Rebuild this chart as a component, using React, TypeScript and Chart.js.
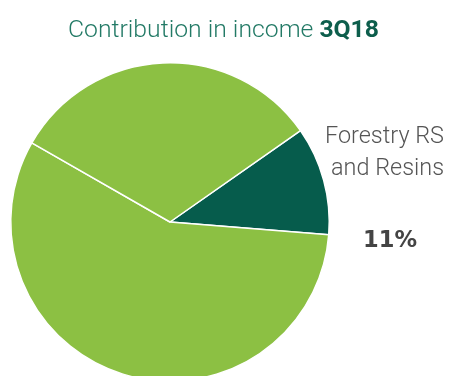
import React, { useEffect, useRef } from "react";
import { Chart, registerables } from "chart.js";

Chart.register(...registerables);

const segments = ["Forestry RS and Resins", "Other 1", "Other 2"];
const shares = [11, 57, 32];
const sliceColors = ["#065c4c", "#8cc043", "#8cc043"];
const titleMain = "Contribution in income ";
const titleBold = "3Q18";
const labelLines = ["Forestry RS", "and Resins"];

const FONT = "Roboto, 'DejaVu Sans Condensed', sans-serif";
const LIGHT = `300 24px ${FONT}`;
const BOLD = `bold 24px ${FONT}`;
const VALUE_FONT = `bold 23px 'DejaVu Sans', sans-serif`;

// draw parts [text, font, color] starting at x with total width fitted to target
function drawFitted(ctx: any, parts: [string, string, string][], x: number, y: number, target: number) {
  let total = 0;
  const widths = parts.map(([t, f]) => {
    ctx.font = f;
    const w = ctx.measureText(t).width;
    total += w;
    return w;
  });
  const s = target / total;
  ctx.save();
  ctx.translate(x, y);
  ctx.scale(s, 1);
  ctx.textAlign = "left";
  ctx.textBaseline = "alphabetic";
  let cx = 0;
  parts.forEach(([t, f, c], i) => {
    ctx.font = f;
    ctx.fillStyle = c;
    ctx.fillText(t, cx, 0);
    cx += widths[i];
  });
  ctx.restore();
}

const textPlugin = {
  id: "texts",
  afterDraw(chart: any) {
    const ctx = chart.ctx;
    drawFitted(ctx, [[titleMain, LIGHT, "#237a66"], [titleBold, BOLD, "#0d5e4c"]], 68, 37, 311);
    drawFitted(ctx, [[labelLines[0], LIGHT, "#555555"]], 325, 143, 119);
    drawFitted(ctx, [[labelLines[1], LIGHT, "#555555"]], 331, 175, 113);
    drawFitted(ctx, [[`${shares[0]}%`, VALUE_FONT, "#444444"]], 363, 247, 54);
  },
};

export default function App() {
  const ref = useRef<HTMLCanvasElement>(null);
  useEffect(() => {
    if (!ref.current) return;
    const chart = new Chart(ref.current, {
      type: "pie",
      data: {
        labels: segments,
        datasets: [
          {
            data: shares,
            backgroundColor: sliceColors,
            borderColor: "#ffffff",
            borderWidth: 1.5,
          },
        ],
      },
      options: {
        animation: false,
        responsive: false,
        rotation: 55,
        layout: { padding: { left: 10, right: 119, top: 62, bottom: 8 } },
        plugins: {
          legend: { display: false },
          tooltip: { enabled: false },
          title: { display: false },
        },
      },
      plugins: [textPlugin],
    });
    return () => chart.destroy();
  }, []);
  return (
    <div
      style={{
        position: "fixed",
        left: 0,
        top: 0,
        width: 449,
        height: 376,
        overflow: "hidden",
        background: "#ffffff",
      }}
    >
      <canvas ref={ref} width={449} height={390} style={{ width: 449, height: 390, display: "block" }} />
    </div>
  );
}
